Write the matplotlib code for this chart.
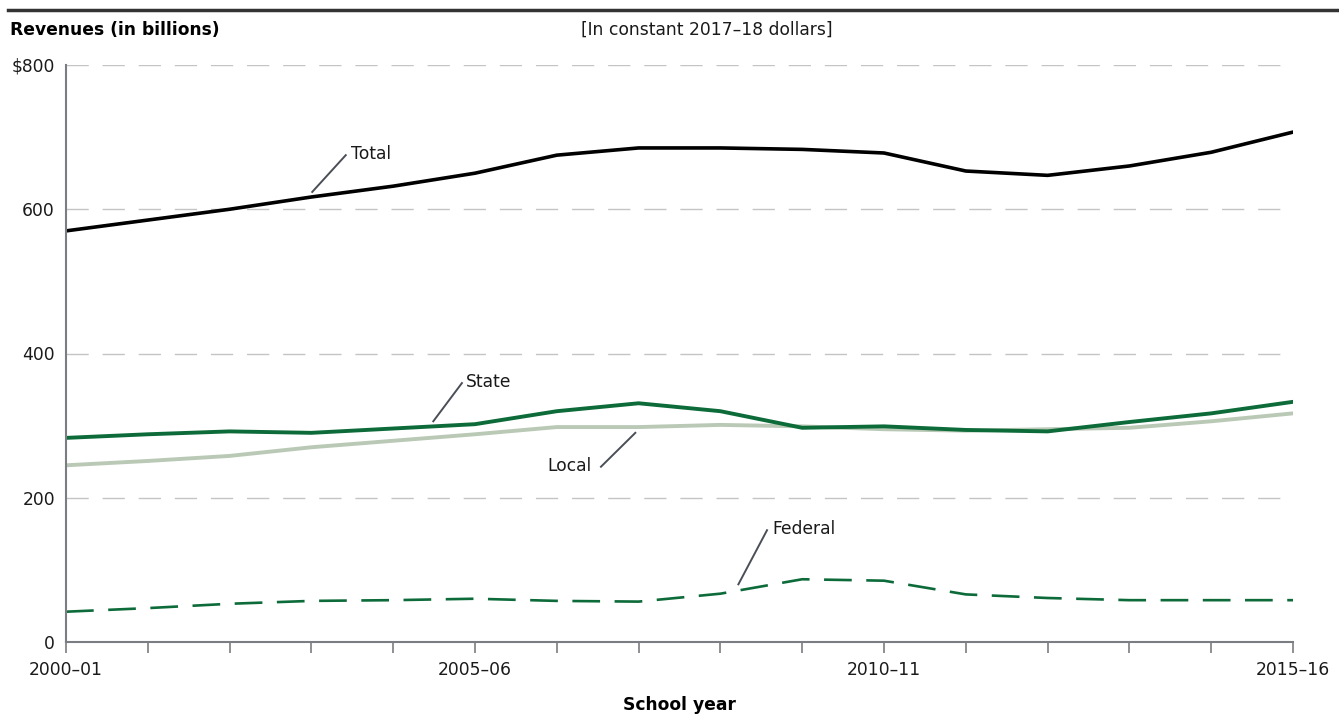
import matplotlib
matplotlib.use("Agg")
import matplotlib.pyplot as plt

plt.rcParams['font.family'] = ['DejaVu Sans']

years = ["2000-01", "2001-02", "2002-03", "2003-04", "2004-05", "2005-06", "2006-07", "2007-08",
         "2008-09", "2009-10", "2010-11", "2011-12", "2012-13", "2013-14", "2014-15", "2015-16"]
total = [570, 585, 600, 617, 632, 650, 675, 685, 685, 683, 678, 653, 647, 660, 679, 707]
state = [283, 288, 292, 290, 296, 302, 320, 331, 320, 297, 299, 294, 292, 305, 317, 333]
local = [245, 251, 258, 270, 279, 288, 298, 298, 301, 299, 295, 293, 295, 297, 306, 317]
federal = [42, 47, 53, 57, 58, 60, 57, 56, 67, 87, 85, 66, 61, 58, 58, 58]
tick_labels = {0: "2000\u201301", 5: "2005\u201306", 10: "2010\u201311", 15: "2015\u201316"}

green = "#0d6b3a"
light = "#b9c9b6"
axis_col = "#7a7d82"
fs = 12.3

fig = plt.figure(figsize=(13.39, 7.17), dpi=100)
ax = fig.add_axes([66/1339, 75/717, (1293-66)/1339, (642-65)/717])

x = list(range(len(years)))
for yv in [200, 400, 600, 800]:
    ax.axhline(yv, color="#c4c4c4", lw=1, dashes=(16, 10), zorder=0)

ax.plot(x, local, color=light, lw=2.8, solid_capstyle="round")
ax.plot(x, state, color=green, lw=2.8, solid_capstyle="round")
ax.plot(x, total, color="black", lw=2.6, solid_capstyle="round")
ax.plot(x, federal, color=green, lw=1.9, dashes=(10.5, 5.5))

ax.set_xlim(0, 15)
ax.set_ylim(0, 800)
ax.set_xticks(x)
ax.set_xticklabels([tick_labels.get(i, "") for i in x], fontsize=fs, color="#1a1a1a")
ax.set_yticks([0, 200, 400, 600, 800])
ax.set_yticklabels(["0", "200", "400", "600", "$800"], fontsize=fs, color="#1a1a1a")
ax.tick_params(axis="x", direction="out", length=8, width=1.2, color=axis_col, pad=6)
ax.tick_params(axis="y", length=0, pad=8)
for s in ["top", "right"]:
    ax.spines[s].set_visible(False)
for s in ["left", "bottom"]:
    ax.spines[s].set_color(axis_col)
    ax.spines[s].set_linewidth(1.5)

# callouts
lc = "#4a4e57"
def callout(x0, y0, x1, y1, label, tx, ty, ha="left"):
    ax.plot([x0, x1], [y0, y1], color=lc, lw=1.4, clip_on=False)
    ax.text(tx, ty, label, fontsize=fs, ha=ha, va="center", color="#1a1a1a")

callout(3.01, 624, 3.42, 675, "Total", 3.49, 676)
callout(4.49, 306, 4.84, 359, "State", 4.89, 361)
callout(6.54, 243, 6.96, 290, "Local", 6.43, 244, ha="right")
callout(8.22, 80, 8.57, 155, "Federal", 8.63, 157)

ax.set_xlabel("School year", fontsize=fs, fontweight="bold", labelpad=12)

fig.add_artist(plt.Line2D([8/1339, 1], [1 - 10/717, 1 - 10/717], color="#333333", lw=2.5))
fig.text(10/1339, 1 - 30/717, "Revenues (in billions)", fontsize=fs, fontweight="bold",
         va="center", ha="left")
fig.text(707/1339, 1 - 30/717, "[In constant 2017\u201318 dollars]", fontsize=fs,
         va="center", ha="center", color="#1a1a1a")

fig.savefig("out.png", dpi=100)
